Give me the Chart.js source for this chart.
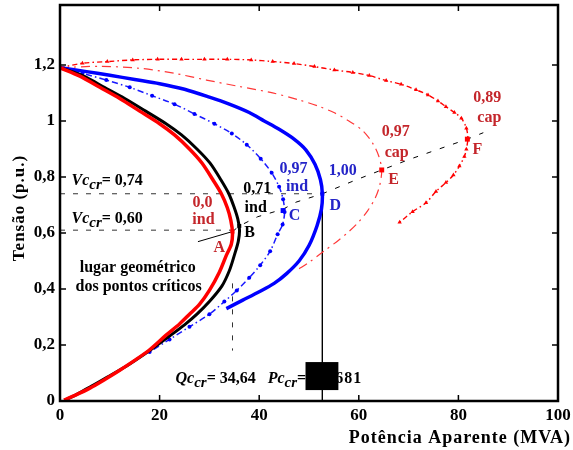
<!DOCTYPE html>
<html>
<head>
<meta charset="utf-8">
<script src="https://cdn.jsdelivr.net/npm/chart.js@4.4.0/dist/chart.umd.min.js"></script>
<style>
html, body { margin: 0; padding: 0; background: #fff; }
#wrap { width: 573px; height: 450px; }
</style>
</head>
<body>
<div id="wrap"><canvas id="pv"></canvas></div>
<script>
// tick labels
const xTicks = [0, 20, 40, 60, 80, 100];
const yTicks = [0, 0.2, 0.4, 0.6, 0.8, 1, 1.2];

// curvas PV (potencia aparente MVA, tensao p.u.)
const curve00ind = [[0,1.19],[4,1.16],[8,1.12],[12,1.08],[16,1.035],[20,0.99],[23,0.95],[26,0.9],[28.5,0.85],[30.7,0.79],[32.4,0.74],[33.6,0.69],[34.3,0.645],[34.64,0.6],[34.4,0.56],[33.4,0.52],[32,0.46],[30,0.395],[28,0.345],[26,0.31],[24,0.275],[21.3,0.235],[18,0.183],[15,0.145],[12,0.11],[9,0.077],[6,0.046],[3,0.02],[0.8,0.003]];
const curve071ind = [[0,1.19],[4.8,1.16],[8.9,1.12],[13,1.08],[17.2,1.035],[21.3,0.99],[24.4,0.95],[27.5,0.9],[30.1,0.85],[32.3,0.79],[33.9,0.74],[35,0.69],[35.7,0.65],[36.05,0.61],[35.8,0.57],[35,0.52],[34,0.465],[32.5,0.41],[30,0.355],[27.5,0.31],[25,0.272],[22,0.232],[18,0.18],[14,0.132],[10,0.09],[6,0.05],[3,0.02],[1,0.003]];
const curve097ind = [[0,1.19],[4.5,1.17],[9.3,1.146],[14,1.12],[18.5,1.09],[23,1.06],[27,1.025],[31,0.99],[34.5,0.955],[37.5,0.915],[40.3,0.865],[42.5,0.815],[44,0.765],[44.8,0.72],[45.1,0.675],[44.7,0.63],[43.7,0.595],[42.2,0.535],[40.2,0.485],[38,0.44],[35.5,0.395],[33,0.355],[30,0.31],[26,0.265],[22,0.22],[18,0.175]];
const curve100 = [[0,1.19],[5,1.177],[10,1.163],[15,1.148],[20,1.133],[25,1.113],[30,1.085],[34,1.06],[38,1.03],[41,1.0],[44,0.97],[47,0.935],[49.4,0.896],[51.2,0.845],[52.3,0.79],[52.68,0.74],[52.5,0.685],[51.6,0.625],[50,0.555],[48,0.5],[45.5,0.455],[43,0.42],[40,0.39],[36.7,0.36],[33.4,0.33]];
const curve097cap = [[0,1.19],[8,1.195],[16,1.188],[23,1.17],[29.4,1.146],[36,1.123],[42.7,1.1],[48,1.075],[52,1.052],[55,1.03],[58,1.0],[60.8,0.965],[62.8,0.92],[64,0.875],[64.6,0.825],[64.2,0.77],[63.3,0.725],[61.8,0.68],[60,0.64],[58,0.605],[56,0.575],[53,0.535],[50,0.495],[47.8,0.47]];
const curve089cap = [[0,1.19],[4.5,1.206],[9.5,1.212],[14.6,1.218],[19.6,1.22],[24.4,1.22],[29,1.22],[33.6,1.22],[38.4,1.218],[42.7,1.212],[47,1.205],[51.1,1.194],[55.1,1.182],[58.8,1.173],[62.1,1.162],[65.5,1.144],[68.5,1.131],[71.5,1.111],[73.9,1.093],[75.9,1.071],[77.5,1.051],[79.2,1.03],[80.6,1.01],[81.6,0.974],[81.9,0.938],[81.6,0.899],[81.2,0.873],[80.2,0.839],[79,0.807],[77.5,0.78],[75.5,0.748],[73.5,0.708],[70.8,0.676],[68.2,0.638]];

// pontos criticos A..F
const critNames = ['A', 'B', 'C', 'D', 'E', 'F'];
const critX = [34.64, 36, 44.8, 52.68, 64.6, 81.8];
const critY = [0.605, 0.625, 0.68, 0.74, 0.825, 0.935];

// lugar geometrico e linhas auxiliares
const locusSolid = [[27.7,0.569],[34.64,0.605]];
const locusDashed = [[34.64,0.605],[36,0.625],[39.7,0.658],[44.8,0.685],[47.4,0.71],[52.68,0.74],[59.5,0.79],[64.6,0.825],[70.2,0.863],[77.9,0.911],[81.8,0.935],[85,0.958]];
const vcrLine74 = [[0,0.74],[52.68,0.74]];
const vcrLine60 = [[0,0.61],[34.64,0.61]];
const qcrLine = [[34.64,0.42],[34.64,0.18]];
const pcrLine = [[52.68,0.74],[52.68,0]];

const RED = '#ff0000';
const BLUE = '#0000ff';
const TXT_RED = '#c4262b';
const TXT_BLUE = '#2424c8';
const FONT = 'Liberation Serif';

function pts(arr) {
    return arr.map(p => ({x: p[0], y: p[1]}));
}

function line(data, color, width, dash, order) {
    return {
        data: pts(data), showLine: true, borderColor: color, borderWidth: width,
        borderDash: dash || [], pointRadius: 0, tension: 0, order: order
    };
}

let datasets = [
    line(vcrLine74, '#333', 1, [5, 8], 20),
    line(vcrLine60, '#333', 1, [5, 8], 20),
    line(qcrLine, '#333', 1, [5, 8], 20),
    line(pcrLine, '#000', 1, [], 20),
    line(locusSolid, '#000', 1, [], 19),
    line(locusDashed, '#000', 1, [5, 9], 19),
    Object.assign(line(curve097cap, '#ff3838', 1.2, [9, 5, 2, 5], 6), {tension: 0.3}),
    Object.assign(line(curve089cap, RED, 1.4, [5, 3, 1.5, 3], 5), {
        tension: 0.3, pointRadius: 2.5, pointStyle: 'triangle',
        pointBackgroundColor: RED, pointBorderColor: RED, pointBorderWidth: 0
    }),
    Object.assign(line(curve097ind, '#1a1aff', 1.5, [6, 3, 1.5, 3], 4), {
        tension: 0.3, pointRadius: 2, pointBackgroundColor: BLUE, pointBorderColor: BLUE, pointBorderWidth: 0
    }),
    Object.assign(line(curve100, BLUE, 3.5, [], 3), {tension: 0.3}),
    Object.assign(line(curve071ind, '#000', 3, [], 2), {tension: 0.3}),
    Object.assign(line(curve00ind, RED, 3.5, [], 1), {tension: 0.3}),
    {
        data: critX.map((v, i) => ({x: v, y: critY[i]})),
        showLine: false, order: 0,
        pointRadius: [2.8, 2.8, 3.5, 2.8, 3.5, 3.5],
        pointStyle: 'rect',
        pointBackgroundColor: [RED, '#000', BLUE, BLUE, RED, RED],
        pointBorderWidth: 0
    }
];

function rich(ctx, x, y, parts, color) {
    let cx = x;
    ctx.fillStyle = color;
    ctx.textBaseline = 'alphabetic';
    ctx.textAlign = 'left';
    parts.forEach(p => {
        ctx.font = p[1];
        if ('letterSpacing' in ctx) ctx.letterSpacing = p[3] || '0px';
        ctx.fillText(p[0], cx, y + (p[2] || 0));
        cx += ctx.measureText(p[0]).width;
    });
    if ('letterSpacing' in ctx) ctx.letterSpacing = '0px';
}

const annotPlugin = {
    id: 'annot',
    afterDatasetsDraw(chart) {
        const {ctx, chartArea: a, scales: {x, y}} = chart;
        ctx.save();

        // frame
        ctx.strokeStyle = '#000';
        ctx.lineWidth = 2.5;
        ctx.strokeRect(a.left, a.top, a.right - a.left, a.bottom - a.top);
        // inward tick marks
        ctx.lineWidth = 1.5;
        ctx.beginPath();
        xTicks.forEach(v => {
            const px = x.getPixelForValue(v);
            ctx.moveTo(px, a.bottom); ctx.lineTo(px, a.bottom - 6);
            ctx.moveTo(px, a.top); ctx.lineTo(px, a.top + 6);
        });
        yTicks.forEach(v => {
            const py = y.getPixelForValue(v);
            ctx.moveTo(a.left, py); ctx.lineTo(a.left + 6, py);
            ctx.moveTo(a.right, py); ctx.lineTo(a.right - 6, py);
        });
        ctx.stroke();

        const B = 'bold 16px ' + FONT;
        const I = 'italic bold 16px ' + FONT;
        const S = 'italic bold 15px ' + FONT;

        // plain labels, centred at data coords
        const labels = [
            ['0,0', 28.6, 0.707, TXT_RED], ['ind', 28.8, 0.646, TXT_RED], ['A', 32.0, 0.548, TXT_RED],
            ['0,71', 39.6, 0.757, '#000'], ['ind', 39.3, 0.691, '#000'], ['B', 38.05, 0.6, '#000'],
            ['0,97', 46.9, 0.83, TXT_BLUE], ['ind', 47.6, 0.766, TXT_BLUE], ['C', 47.1, 0.661, TXT_BLUE],
            ['1,00', 56.8, 0.821, TXT_BLUE], ['D', 55.3, 0.696, TXT_BLUE],
            ['0,97', 67.4, 0.961, TXT_RED], ['cap', 67.6, 0.886, TXT_RED], ['E', 67.0, 0.789, TXT_RED],
            ['0,89', 85.8, 1.082, TXT_RED], ['cap', 86.2, 1.011, TXT_RED], ['F', 83.8, 0.896, TXT_RED],
            ['lugar geométrico', 15.6, 0.475, '#000'], ['dos pontos críticos', 15.8, 0.407, '#000']
        ];
        ctx.font = B;
        ctx.textAlign = 'center';
        ctx.textBaseline = 'middle';
        labels.forEach(l => {
            ctx.fillStyle = l[3];
            ctx.fillText(l[0], x.getPixelForValue(l[1]), y.getPixelForValue(l[2]));
        });

        rich(ctx, x.getPixelForValue(2.3), y.getPixelForValue(0.771),
            [['Vc', I], ['cr', S, 4], ['= 0,74', B]], '#000');
        rich(ctx, x.getPixelForValue(2.3), y.getPixelForValue(0.636),
            [['Vc', I], ['cr', S, 4], ['= 0,60', B]], '#000');
        rich(ctx, x.getPixelForValue(23.2), y.getPixelForValue(0.064),
            [['Qc', I], ['cr', S, 4], ['= 34,64', B]], '#000');
        rich(ctx, x.getPixelForValue(41.7), y.getPixelForValue(0.064),
            [['Pc', I], ['cr', S, 4], ['= 52,681', B, 0, '1px']], '#000');

        // black box over the Pccr value
        ctx.fillStyle = '#000';
        const bx0 = x.getPixelForValue(49.3), bx1 = x.getPixelForValue(55.9);
        const by0 = y.getPixelForValue(0.139), by1 = y.getPixelForValue(0.039);
        ctx.fillRect(bx0, by0, bx1 - bx0, by1 - by0);

        // axis titles
        ctx.fillStyle = '#000';
        ctx.font = 'bold 18px ' + FONT;
        if ('letterSpacing' in ctx) ctx.letterSpacing = '1px';
        ctx.textAlign = 'right';
        ctx.textBaseline = 'middle';
        ctx.fillText('Potência Aparente (MVA)', 571, 438);
        ctx.translate(20, 208);
        ctx.rotate(-Math.PI / 2);
        ctx.textAlign = 'center';
        ctx.font = 'bold 17px ' + FONT;
        ctx.fillText('Tensão (p.u.)', 0, 0);
        ctx.restore();
    }
};

const tickFont = {family: FONT, weight: 'bold', size: 17};

new Chart(document.getElementById('pv'), {
    type: 'scatter',
    data: {datasets: datasets},
    options: {
        responsive: true,
        maintainAspectRatio: false,
        animation: false,
        devicePixelRatio: 1,
        layout: {padding: {left: 0, right: 15, top: 5, bottom: 0}},
        plugins: {legend: {display: false}, tooltip: {enabled: false}},
        scales: {
            x: {
                type: 'linear', min: 0, max: 100,
                afterBuildTicks(s) { s.ticks = xTicks.map(v => ({value: v})); },
                ticks: {font: tickFont, color: '#000', padding: 4, maxRotation: 0, autoSkip: false},
                grid: {display: false, drawTicks: false},
                border: {display: false},
                afterFit(s) { s.height = 49; s.paddingLeft = 0; s.paddingRight = 0; }
            },
            y: {
                type: 'linear', min: 0, max: 1.414,
                afterBuildTicks(s) { s.ticks = yTicks.map(v => ({value: v})); },
                ticks: {
                    font: tickFont, color: '#000', padding: 5, autoSkip: false,
                    callback: v => String(v).replace('.', ',')
                },
                grid: {display: false, drawTicks: false},
                border: {display: false},
                afterFit(s) { s.width = 60; s.paddingTop = 0; s.paddingBottom = 0; }
            }
        }
    },
    plugins: [annotPlugin]
});
</script>
</body>
</html>
